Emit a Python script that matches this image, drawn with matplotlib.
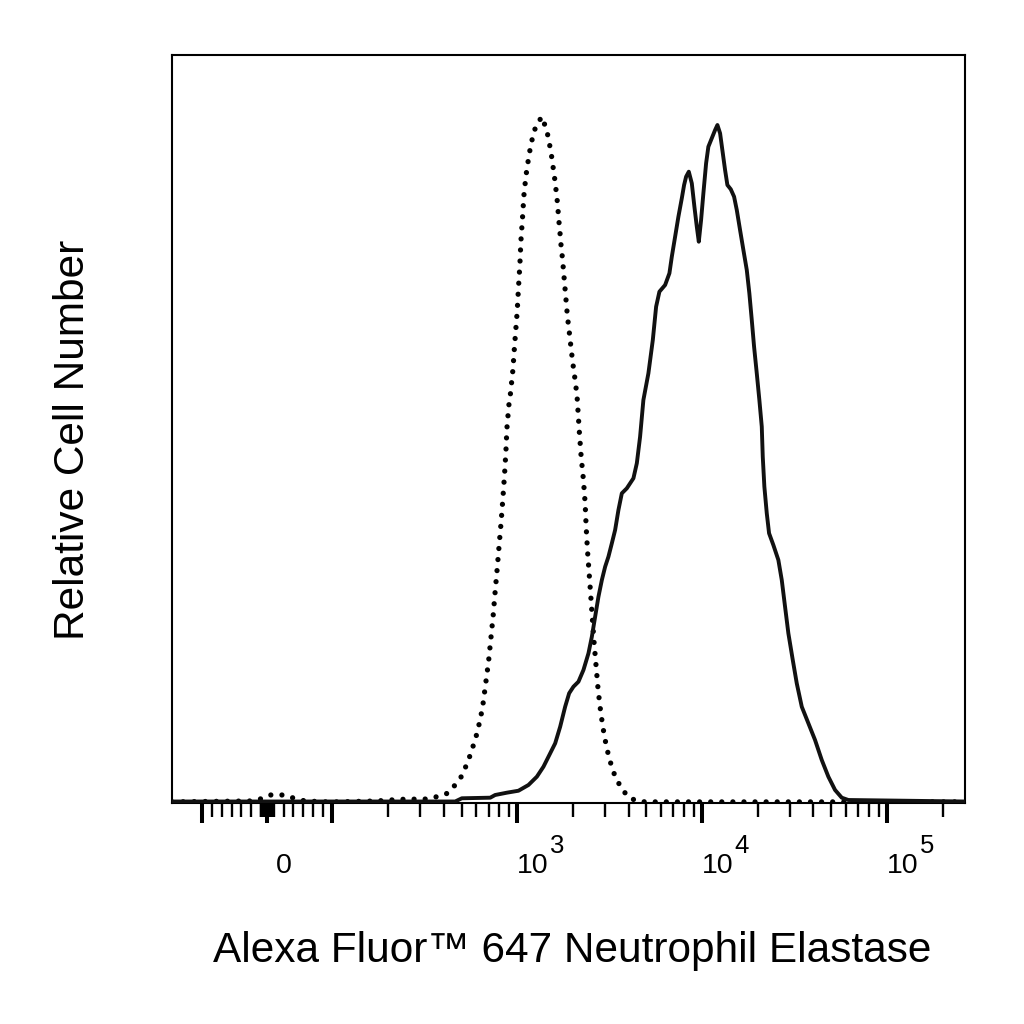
import matplotlib
matplotlib.use('Agg')
import matplotlib.pyplot as plt
import numpy as np

plt.rcParams['font.family'] = ['Liberation Sans', 'DejaVu Sans']

# isotype control (dotted), fluorescence vs relative count (% of axis height)
iso_x = [-146, -26, -11, 5, 25, 40, 58, 97, 174, 233, 318, 368, 420, 462, 506, 562, 610, 649,
         674, 700, 721, 742, 760, 780, 799, 819, 837, 854, 869, 880, 902, 920, 948, 967, 1000,
         1016, 1034, 1047, 1068, 1087, 1105, 1123, 1147, 1175, 1210, 1262, 1360, 1447, 1489,
         1527, 1559, 1591, 1619, 1645, 1666, 1686, 1708, 1729, 1757, 1779, 1801, 1824, 1847,
         1870, 1903, 1934, 1966, 2000, 2040, 2076, 2110, 2171, 2218, 2282, 2331, 2360, 2399,
         2450, 2502, 2553, 2607, 2673, 2740, 2834, 2964, 3142, 3386, 3707, 4080, 4620, 5450,
         264000]
iso_y = [0.15, 0.27, 0.53, 1.07, 1.07, 0.67, 0.27, 0.13, 0.27, 0.49, 0.53, 0.84, 1.30, 2.41,
         3.74, 6.64, 9.53, 12.66, 15.78, 18.89, 22.02, 25.13, 28.25, 31.37, 34.49, 37.61, 40.74,
         43.85, 46.97, 50.09, 53.21, 54.77, 57.89, 61.0, 65.68, 68.85, 71.93, 75.04, 78.12,
         81.19, 82.89, 84.36, 85.87, 87.43, 88.94, 90.51, 91.75, 89.88, 88.33, 86.86, 85.25,
         83.69, 82.13, 80.61, 79.01, 77.45, 75.94, 74.37, 72.82, 71.26, 69.69, 68.14, 66.58,
         65.01, 63.46, 61.90, 60.33, 58.78, 57.22, 55.75, 54.19, 49.43, 46.30, 43.18, 40.07,
         36.94, 33.82, 30.71, 27.58, 24.47, 21.35, 18.22, 15.11, 11.99, 8.86, 5.97, 3.52, 1.74,
         0.63, 0.17, 0.15, 0.15]

# neutrophil elastase stained sample (solid)
ne_x = [-146, 462, 502, 715, 760, 880, 1016, 1151, 1278, 1387, 1508, 1605, 1708, 1817, 1910,
        2015, 2145, 2282, 2429, 2534, 2640, 2751, 2870, 2990, 3115, 3250, 3386, 3528, 3680,
        3916, 4252, 4436, 4620, 4814, 5124, 5413, 5640, 5877, 6309, 6656, 6858, 7146, 7444,
        7766, 7991, 8193, 8473, 8795, 9085, 9360, 9596, 9874, 10160, 10510, 10810, 11280,
        11760, 12100, 12510, 12940, 13310, 13700, 14290, 14890, 15400, 16040, 16720, 17440,
        18010, 18560, 19100, 19750, 20400, 21020, 21280, 21710, 22370, 23020, 24280, 25840,
        26960, 28090, 29270, 30920, 32500, 34590, 37550, 40810, 44360, 48160, 52350, 56900,
        61780, 264000]
ne_y = [0.2, 0.2, 0.63, 0.71, 1.07, 1.38, 1.64, 2.41, 3.52, 4.85, 6.64, 7.98, 10.20, 12.87,
        14.67, 15.55, 16.22, 17.78, 20.01, 22.23, 24.91, 27.58, 29.81, 31.59, 32.93, 34.72,
        36.50, 39.17, 41.40, 42.07, 43.41, 45.42, 48.97, 53.88, 57.45, 61.90, 66.35, 68.36,
        69.25, 70.82, 73.04, 75.71, 78.38, 80.84, 82.62, 83.73, 84.40, 82.85, 79.72, 77.05,
        75.04, 77.94, 81.51, 85.52, 87.74, 88.87, 89.98, 90.64, 89.53, 86.86, 84.63, 82.62,
        82.05, 81.06, 79.28, 76.61, 73.93, 71.26, 68.14, 64.57, 61.00, 57.45, 53.88, 50.31,
        46.30, 42.29, 38.73, 36.06, 34.49, 32.49, 29.81, 26.24, 22.69, 19.12, 15.99, 12.87,
        10.66, 8.42, 5.75, 3.52, 1.74, 0.71, 0.40, 0.2]

major_ticks = [-100, 0, 100, 1000, 10000, 100000]
decade_labels = [(1000, '3'), (10000, '4'), (100000, '5')]
minor_ticks = ([s * v for s in (-1, 1) for v in list(range(1, 10)) + list(range(10, 100, 15))]
               + list(range(200, 1000, 100)) + list(range(2000, 10000, 1000))
               + list(range(20000, 100000, 10000)) + [200000])

fig = plt.figure(figsize=(10.24, 10.24), dpi=100)
ax = fig.add_axes([172 / 1024, 1 - 803 / 1024, 793 / 1024, 748 / 1024])

ax.plot(iso_x, iso_y, color='black', lw=3.8, linestyle=(0, (0.001, 2.1)),
        dash_capstyle='round', zorder=3)
ax.plot(ne_x, ne_y, color='#111111', lw=2.8, solid_joinstyle='round', zorder=4)

ax.set_xscale('symlog', linthresh=100, linscale=0.316)
ax.set_xlim(-146, 264000)
ax.set_ylim(0, 100)

ax.set_xticks(major_ticks)
ax.set_xticks(minor_ticks, minor=True)
ax.set_xticklabels([])
ax.tick_params(axis='x', which='major', direction='out', length=14.5, width=2.9,
               color='black', bottom=True, top=False)
ax.tick_params(axis='x', which='minor', direction='out', length=10, width=1.7,
               color='black', bottom=True, top=False)
ax.tick_params(axis='y', left=False, labelleft=False)
for sp in ax.spines.values():
    sp.set_linewidth(1.5)

ax.annotate('0', xy=(0, 0), xycoords=('data', 'axes fraction'), xytext=(12.2, -50.4),
            textcoords='offset points', ha='center', va='baseline', fontsize=20.5)
for val, exp in decade_labels:
    ax.annotate('10', xy=(val, 0), xycoords=('data', 'axes fraction'), xytext=(0, -50.4),
                textcoords='offset points', ha='left', va='baseline', fontsize=20.5)
    ax.annotate(exp, xy=(val, 0), xycoords=('data', 'axes fraction'), xytext=(23.5, -36),
                textcoords='offset points', ha='left', va='baseline', fontsize=18.5)

fig.text(572 / 1024, 1 - 962 / 1024, 'Alexa Fluor\u2122 647 Neutrophil Elastase',
         ha='center', va='baseline', fontsize=30.5)
fig.text(73 / 1024, 1 - 440 / 1024, 'Relative Cell Number', rotation=90,
         ha='center', va='center', fontsize=30.5)

fig.savefig('out.png', dpi=100)
